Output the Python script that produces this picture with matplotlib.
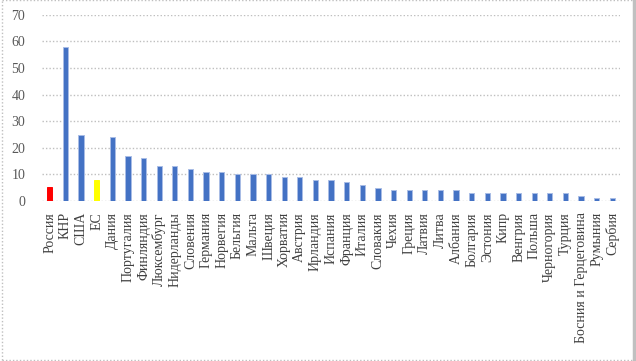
import matplotlib.pyplot as plt
from matplotlib.lines import Line2D

# данные по странам
countries = ['Россия', 'КНР', 'США', 'ЕС', 'Дания', 'Португалия', 'Финляндия',
             'Люксембург', 'Нидерланды', 'Словения', 'Германия', 'Норвегия',
             'Бельгия', 'Мальта', 'Швеция', 'Хорватия', 'Австрия', 'Ирландия',
             'Испания', 'Франция', 'Италия', 'Словакия', 'Чехия', 'Греция',
             'Латвия', 'Литва', 'Албания', 'Болгария', 'Эстония', 'Кипр',
             'Венгрия', 'Польша', 'Черногория', 'Турция',
             'Босния и Герцеговина', 'Румыния', 'Сербия']
values = [5.2, 58, 25, 8, 24, 17, 16, 13, 13, 12, 11, 11, 10, 10, 10, 9, 9, 8,
          8, 7, 6, 5, 4, 4, 4, 4, 4, 3, 3, 3, 3, 3, 3, 3, 2, 1, 1]
highlight = {'Россия': '#FF0000', 'ЕС': '#FFFF00'}
y_ticks = [0, 10, 20, 30, 40, 50, 60, 70]

plt.rcParams['font.family'] = ['Liberation Serif', 'DejaVu Serif']

fig = plt.figure(figsize=(6.36, 3.61), dpi=100)
ax = fig.add_axes([0.066, 0.443, 0.909, 0.516])

colors = [highlight.get(c, '#4472C4') for c in countries]
edges = [highlight.get(c, '#A9BDE6') for c in countries]
x = list(range(len(countries)))
ax.bar(x, values, width=0.34, color=colors, edgecolor=edges, linewidth=0.7, zorder=3)

ax.set_xlim(-0.5, len(countries) - 0.5)
ax.set_ylim(0, 70)
ax.set_yticks(y_ticks)
ax.set_xticks(x)
ax.set_xticklabels(countries, rotation=90, fontsize=10, color='#404040')
ax.tick_params(axis='y', labelsize=10, labelcolor='#595959', length=0, pad=12)
ax.tick_params(axis='x', length=0, pad=8)
ax.grid(axis='y', color='#BFBFBF', linestyle=(0, (1, 1.5)), linewidth=1, zorder=0)
ax.set_axisbelow(True)
for s in ax.spines.values():
    s.set_visible(False)

# рамка вокруг рисунка
dot = dict(color='#BFBFBF', linestyle=(0, (1, 1.5)), linewidth=1, transform=fig.transFigure)
fig.add_artist(Line2D([0.003, 0.995], [0.999, 0.999], **dot))
fig.add_artist(Line2D([0.003, 0.995], [0.002, 0.002], **dot))
fig.add_artist(Line2D([0.003, 0.003], [0.002, 0.999], **dot))
fig.add_artist(Line2D([0.997, 0.997], [0.0, 1.0], color='#C0C0C0', linewidth=2.5,
                      transform=fig.transFigure))

fig.savefig('out.png', dpi=100)
